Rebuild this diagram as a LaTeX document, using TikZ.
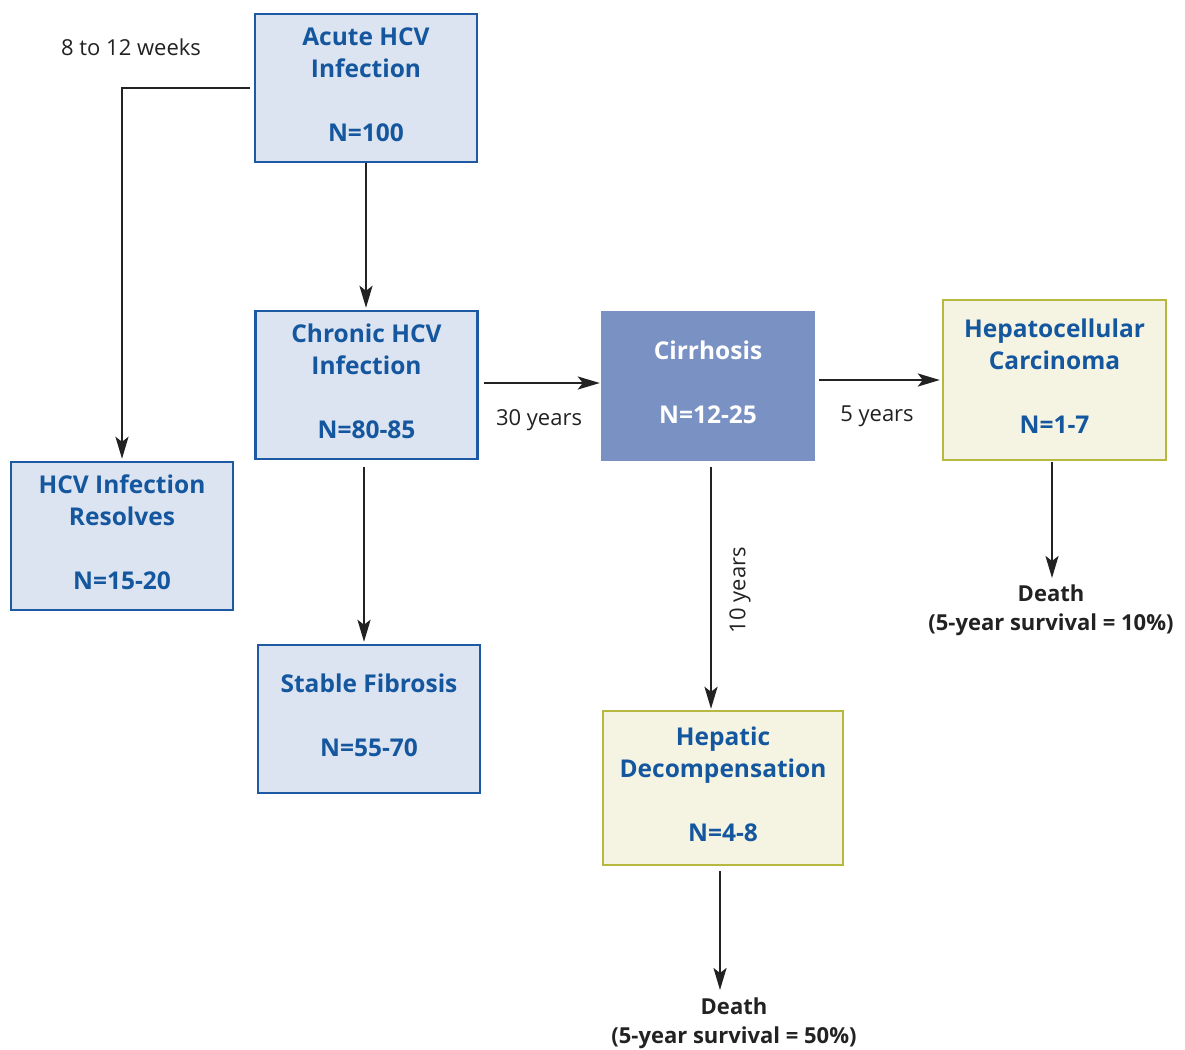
\documentclass[tikz,border=0pt]{standalone}
\usepackage{fontspec}
\setmainfont{Open Sans}
\usetikzlibrary{arrows.meta}
\definecolor{bluebd}{HTML}{1E5AA3}
\definecolor{bluetx}{HTML}{14579E}
\definecolor{bluefill}{HTML}{DCE3F1}
\definecolor{cirrfill}{HTML}{7A91C4}
\definecolor{yelfill}{HTML}{F5F4E3}
\definecolor{yelbd}{HTML}{B7B93E}
\definecolor{darktx}{HTML}{222222}
\tikzset{
  x=1pt, y=-1pt,
  box/.style={draw=bluebd, line width=2.4pt, fill=bluefill, text=bluetx,
    font=\fontsize{24.5}{32}\selectfont\bfseries, align=center, inner sep=0pt,
    text depth=7pt, minimum width=222pt, minimum height=148pt},
  cirrbox/.style={box, draw=none, fill=cirrfill, text=white, minimum width=214pt, minimum height=150pt},
  ybox/.style={box, draw=yelbd, fill=yelfill},
  conn/.style={line width=2.4pt, draw=darktx, -{Stealth[length=22pt,width=13pt,inset=5pt]}},
  lab/.style={font=\fontsize{22}{26}\selectfont, text=darktx, inner sep=0pt},
  death/.style={font=\fontsize{22}{29}\selectfont\bfseries, text=darktx, align=center, inner sep=0pt}
}
\begin{document}
\begin{tikzpicture}
\useasboundingbox (0,0) rectangle (1185,1049);
\fill[white] (0,0) rectangle (1185,1049);
\node[box] (acute) at (366,88) {Acute HCV\\Infection\\[32pt]N=100};
\node[box] (chronic) at (366.5,385) {Chronic HCV\\Infection\\[32pt]N=80-85};
\node[box] (res) at (122,536) {HCV Infection\\Resolves\\[32pt]N=15-20};
\node[box] (stable) at (369,719) {Stable Fibrosis\\[32pt]N=55-70};
\node[cirrbox] (cirr) at (708,386) {Cirrhosis\\[32pt]N=12-25};
\node[ybox, minimum width=223pt, minimum height=160pt] (hcc) at (1054.5,380) {Hepatocellular\\Carcinoma\\[32pt]N=1-7};
\node[ybox, minimum width=240pt, minimum height=154pt] (dec) at (723,788) {Hepatic\\Decompensation\\[32pt]N=4-8};
\node[death] (death1) at (1051,610) {Death\\(5-year survival = 10\%)};
\node[death] (death2) at (734,1023) {Death\\(5-year survival = 50\%)};

\node[lab] (l8) at (131,47) {8 to 12 weeks};
\node[lab] (l30) at (539,420) {30 years};
\node[lab] (l5) at (877,416) {5 years};
\node[lab, rotate=90] (l10) at (740,590) {10 years};

\draw[conn, shorten <=4pt, shorten >=2pt] (acute.west) -| (res.north);
\draw[conn, shorten >=2pt] (acute.south) -- (acute.south |- chronic.north);
\draw[conn, shorten <=5pt] ([yshift=2pt]chronic.east) -- ([yshift=2pt]chronic.east -| cirr.west);
\draw[conn, shorten <=7pt, shorten >=2pt] ([xshift=-2.5pt]chronic.south) -- ([xshift=-2.5pt]chronic.south |- stable.north);
\draw[conn, shorten <=3pt, shorten >=2pt] (cirr.east |- hcc.west) -- (hcc.west);
\draw[conn, shorten <=5pt, shorten >=1pt] ([xshift=3pt]cirr.south) -- ([xshift=3pt]cirr.south |- dec.north);
\draw[conn, shorten <=1pt, shorten >=2pt] ([xshift=-2.5pt]hcc.south) -- ([xshift=-2.5pt]hcc.south |- 0,580);
\draw[conn, shorten <=5pt] ([xshift=-3pt]dec.south) -- ([xshift=-3pt]dec.south |- 0,990);
\end{tikzpicture}
\end{document}
